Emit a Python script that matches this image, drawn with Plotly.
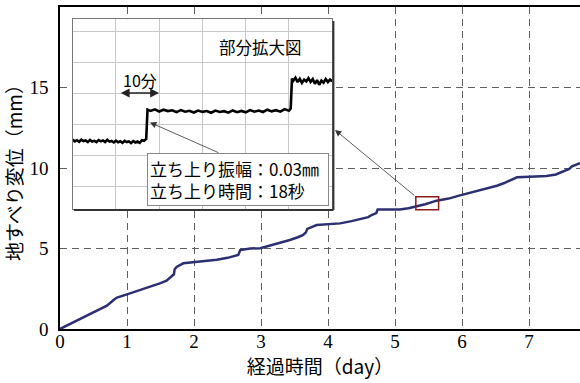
import plotly.graph_objects as go

# Landslide displacement record (days vs mm)
days = [0, 0.1, 0.2, 0.35, 0.45, 0.6, 0.7, 0.8, 0.85, 1.0, 1.15, 1.34, 1.5, 1.59,
        1.67, 1.70, 1.71, 1.74, 1.84, 1.99, 2.15, 2.34, 2.5, 2.59, 2.66, 2.69, 2.84,
        2.99, 3.2, 3.43, 3.55, 3.63, 3.67, 3.69, 3.83, 4.0, 4.18, 4.35, 4.48, 4.6,
        4.65, 4.72, 4.74, 4.9, 5.07, 5.2, 5.32, 5.45, 5.62, 5.8, 5.97, 6.2, 6.4,
        6.52, 6.62, 6.72, 6.82, 7.01, 7.26, 7.4, 7.51, 7.6, 7.64, 7.76]
disp_mm = [0, 0.2, 0.45, 0.75, 0.9, 1.2, 1.45, 1.8, 1.95, 2.15, 2.35, 2.63, 2.85, 3.0,
           3.25, 3.4, 3.7, 3.85, 4.08, 4.14, 4.2, 4.3, 4.42, 4.5, 4.6, 4.9, 5.0,
           5.02, 5.25, 5.53, 5.7, 5.84, 6.0, 6.22, 6.46, 6.52, 6.56, 6.7, 6.81, 6.95,
           7.08, 7.2, 7.42, 7.4, 7.42, 7.5, 7.62, 7.75, 7.97, 8.1, 8.3, 8.55, 8.75,
           8.9, 9.05, 9.25, 9.42, 9.46, 9.5, 9.6, 9.77, 9.95, 10.1, 10.3]

# Enlarged record (minutes vs mm)
zoom_min = [0, 0.5, 1, 1.5, 2, 2.5, 3, 3.5, 4, 4.5, 5, 5.5, 6, 6.5, 7, 7.5, 8, 8.5,
            9, 9.5, 10, 10.5, 11, 11.5, 12, 12.5, 13, 13.5, 14, 14.5, 15, 15.5, 16,
            16.5, 17, 17.3,
            18, 19, 20, 21, 22, 23, 24, 25, 26, 27, 28, 29, 30, 31, 32, 33, 34, 35,
            36, 37, 38, 39, 40, 41, 42, 43, 44, 45, 46, 47, 48, 49, 50, 50.4, 50.7,
            51, 51.5, 52, 52.5, 53, 53.5, 54, 54.5, 55, 55.5, 56, 56.5, 57, 57.5,
            58, 58.5, 59, 59.5, 60]
zoom_mm = [7.8452, 7.8434, 7.8446, 7.8431, 7.8451, 7.8437, 7.8443, 7.8428, 7.8449,
           7.8433, 7.8440, 7.8427, 7.8447, 7.8435, 7.8444, 7.8429, 7.8450, 7.8432,
           7.8438, 7.8424, 7.8441, 7.8426, 7.8436, 7.8420, 7.8439, 7.8428, 7.8434,
           7.8419, 7.8437, 7.8424, 7.8433, 7.8421, 7.8446, 7.8440, 7.8458, 7.8742,
           7.8730, 7.8745, 7.8724, 7.8741, 7.8728, 7.8736, 7.8718, 7.8737, 7.8722,
           7.8731, 7.8714, 7.8733, 7.8720, 7.8728, 7.8712, 7.8733, 7.8719, 7.8727,
           7.8713, 7.8734, 7.8717, 7.8729, 7.8716, 7.8737, 7.8722, 7.8733, 7.8719,
           7.8741, 7.8725, 7.8736, 7.8722, 7.8747, 7.8731, 7.8752, 7.9042,
           7.9022, 7.9050, 7.9008, 7.9040, 7.9000, 7.9032, 7.9016, 7.9046, 7.9010,
           7.9038, 7.8992, 7.9027, 7.8982, 7.9022, 7.9003, 7.9038, 7.9008, 7.9032,
           7.9016]

x_ticks = [0, 1, 2, 3, 4, 5, 6, 7]
y_ticks = [0, 5, 10, 15]
zoom_window_days = [5.31, 5.65]
zoom_window_mm = [7.40, 8.22]
zoom_y_range = [7.7783, 7.9616]

JP = "Noto Sans CJK JP"
SERIF = "Liberation Serif"

fig = go.Figure()
fig.add_trace(go.Scatter(x=days, y=disp_mm, mode="lines",
                         line=dict(color="#2c2f72", width=2.5),
                         xaxis="x", yaxis="y", showlegend=False))
fig.add_trace(go.Scatter(x=zoom_min, y=zoom_mm, mode="lines",
                         line=dict(color="black", width=2.6),
                         xaxis="x2", yaxis="y2", showlegend=False))

grid_dash = "7px,5px"
fig.update_layout(
    width=580, height=383, autosize=False,
    margin=dict(l=60, r=0, t=7, b=54),
    paper_bgcolor="white", plot_bgcolor="white",
    font=dict(family=SERIF, size=19, color="black"),
    xaxis=dict(range=[0, 7.76], tickvals=x_ticks, showgrid=True,
               gridcolor="#606060", griddash=grid_dash, gridwidth=1,
               showline=True, linecolor="black", linewidth=1.5, mirror=True,
               zeroline=False, ticks="", ticklabelstandoff=-6,
               tickfont=dict(family=SERIF, size=19, color="black"),
               title=dict(text="経過時間（day）", standoff=2,
                          font=dict(family=JP, size=19, color="black"))),
    yaxis=dict(range=[0, 20], tickvals=y_ticks, showgrid=True,
               gridcolor="#606060", griddash=grid_dash, gridwidth=1,
               showline=True, linecolor="black", linewidth=1.5,
               zeroline=False, ticks="outside", ticklen=6,
               tickcolor="rgba(0,0,0,0)",
               tickfont=dict(family=SERIF, size=19, color="black"),
               title=dict(text="地すべり変位（mm）", standoff=6,
                          font=dict(family=JP, size=19, color="black"))),
    xaxis2=dict(domain=[0.0244, 0.5235], anchor="y2", range=[0, 60], dtick=10,
                tick0=0, showgrid=True, gridcolor="#c8c8c8", gridwidth=1,
                showticklabels=False, ticks="", zeroline=False,
                showline=True, mirror=True, linecolor="#777", linewidth=1),
    yaxis2=dict(domain=[0.3736, 0.9618], anchor="x2", range=zoom_y_range,
                dtick=0.03, tick0=7.80, showgrid=True, gridcolor="#c8c8c8",
                gridwidth=1, showticklabels=False, ticks="", zeroline=False,
                showline=True, mirror=True, linecolor="#777", linewidth=1),
)

# white backing of the enlarged panel
fig.add_shape(type="rect", xref="x2", yref="y2", x0=0, x1=60,
              y0=zoom_y_range[0], y1=zoom_y_range[1],
              fillcolor="white", line=dict(width=0), layer="below")
# panel shadow on right and bottom edges
fig.add_shape(type="line", xref="paper", yref="paper", x0=0.5258, x1=0.5258,
              y0=0.3696, y1=0.9565, line=dict(color="#333", width=2), layer="above")
fig.add_shape(type="line", xref="paper", yref="paper", x0=0.0269, x1=0.5258,
              y0=0.3696, y1=0.3696, line=dict(color="#333", width=2), layer="above")

# window on the main record that is enlarged
fig.add_shape(type="rect", xref="x", yref="y",
              x0=zoom_window_days[0], x1=zoom_window_days[1],
              y0=zoom_window_mm[0], y1=zoom_window_mm[1],
              line=dict(color="#8b1c1c", width=1.5), layer="above")

# arrow from the window to the panel
fig.add_annotation(xref="x", yref="y", x=4.104, y=12.36,
                   axref="x", ayref="y", ax=zoom_window_days[0], ay=zoom_window_mm[1],
                   text="", showarrow=True, arrowhead=2, arrowsize=1.6,
                   arrowwidth=0.8, arrowcolor="#333")

# arrow from the note box to the first rise
fig.add_annotation(xref="x", yref="y", x=1.343, y=12.83,
                   axref="x", ayref="y", ax=2.388, ay=10.91,
                   text="", showarrow=True, arrowhead=2, arrowsize=1.6,
                   arrowwidth=0.8, arrowcolor="#333")

# note box
fig.add_annotation(xref="paper", yref="paper", x=0.1679, y=0.5457,
                   xanchor="left", yanchor="top", align="left",
                   text="立ち上り振幅：0.03㎜<br>立ち上り時間：18秒",
                   showarrow=False, bgcolor="white", bordercolor="#888",
                   borderwidth=1, borderpad=2, width=176,
                   font=dict(family=JP, size=17, color="black"))

fig.add_annotation(xref="paper", yref="paper", x=0.3865, y=0.8767,
                   xanchor="center", yanchor="middle",
                   text="部分拡大図", showarrow=False,
                   font=dict(family=JP, size=16.5, color="black"))

fig.add_annotation(xref="paper", yref="paper", x=0.1538, y=0.7733,
                   xanchor="center", yanchor="middle",
                   text="10分", showarrow=False,
                   font=dict(family=JP, size=16, color="black"))

# 10-minute span marker
fig.add_annotation(xref="paper", yref="paper", x=0.1904, y=0.7329,
                   ax=-39.7, ay=0, text="", showarrow=True,
                   arrowhead=2, startarrowhead=2, arrowside="end+start",
                   arrowsize=1.1, startarrowsize=1.1, arrowwidth=1.6,
                   arrowcolor="#222")

fig.write_html("out.html")
